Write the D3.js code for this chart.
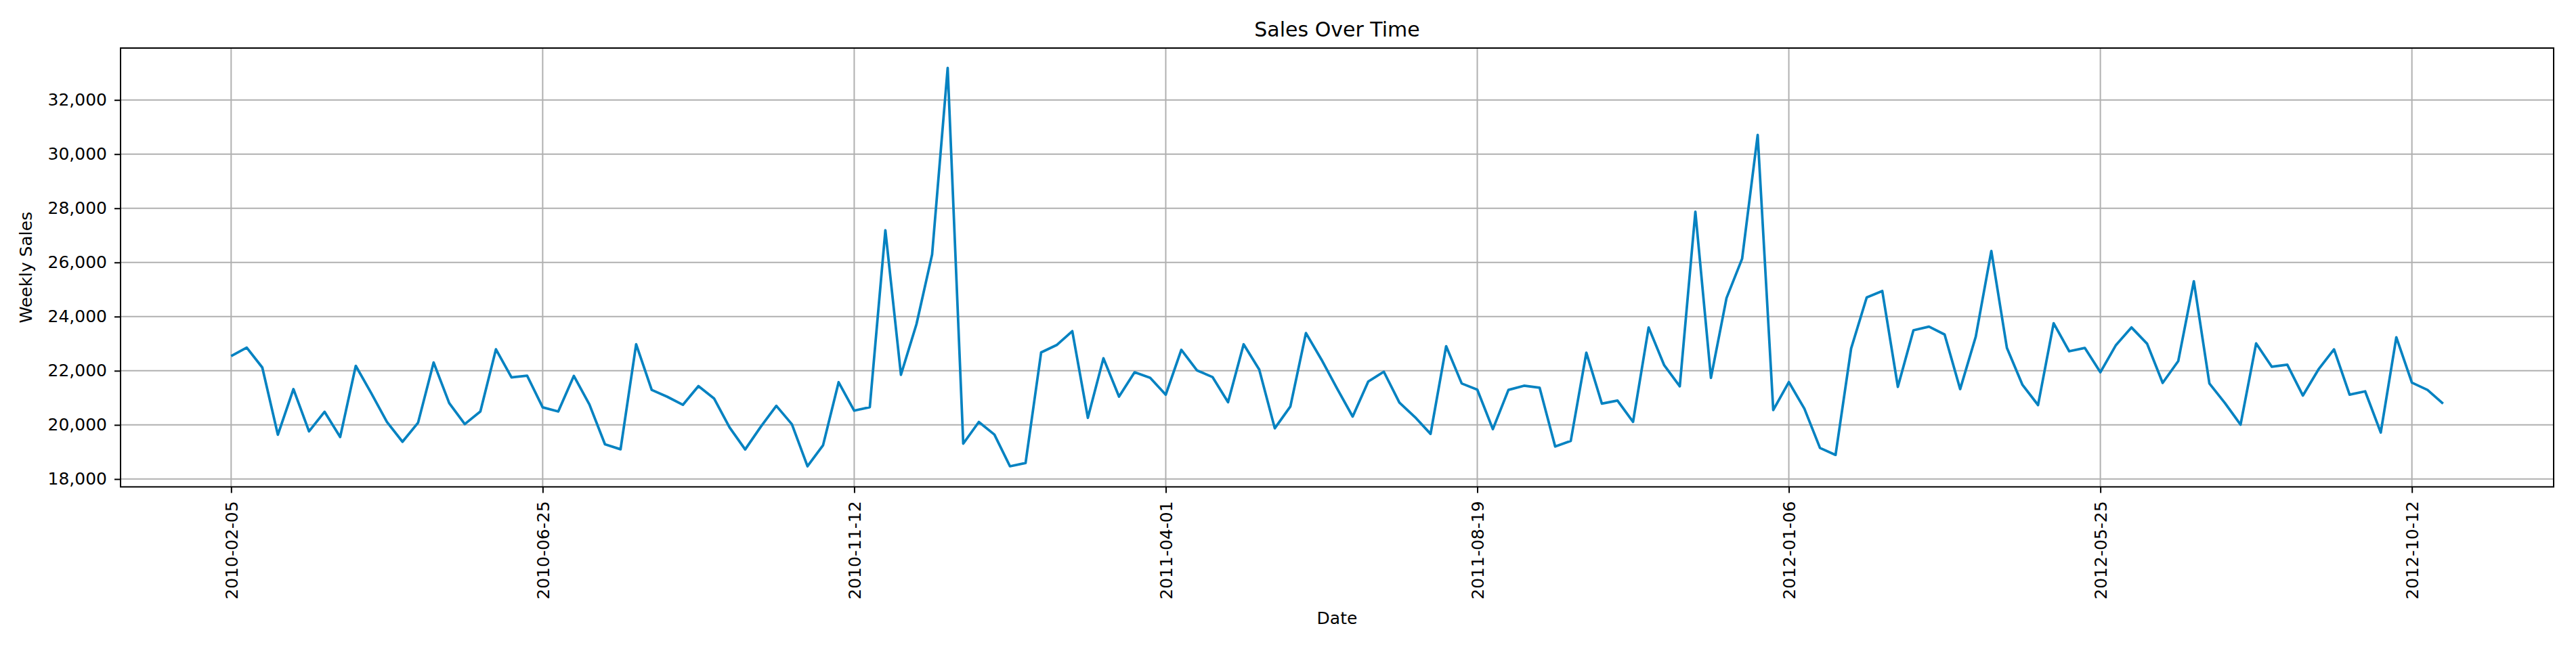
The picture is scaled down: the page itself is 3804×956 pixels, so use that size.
<!DOCTYPE html>
<html>
<head>
<meta charset="utf-8">
<script src="https://cdn.jsdelivr.net/npm/d3@7"></script>
<style>
  html, body { margin: 0; padding: 0; background: #fff; }
  svg { display: block; font-family: "DejaVu Sans", sans-serif; }
</style>
</head>
<body>
<svg id="chart" width="3804" height="956"></svg>
<script>
const dates = [
  "2010-02-05","2010-02-12","2010-02-19","2010-02-26","2010-03-05","2010-03-12","2010-03-19","2010-03-26",
  "2010-04-02","2010-04-09","2010-04-16","2010-04-23","2010-04-30","2010-05-07","2010-05-14","2010-05-21",
  "2010-05-28","2010-06-04","2010-06-11","2010-06-18","2010-06-25","2010-07-02","2010-07-09","2010-07-16",
  "2010-07-23","2010-07-30","2010-08-06","2010-08-13","2010-08-20","2010-08-27","2010-09-03","2010-09-10",
  "2010-09-17","2010-09-24","2010-10-01","2010-10-08","2010-10-15","2010-10-22","2010-10-29","2010-11-05",
  "2010-11-12","2010-11-19","2010-11-26","2010-12-03","2010-12-10","2010-12-17","2010-12-24","2010-12-31",
  "2011-01-07","2011-01-14","2011-01-21","2011-01-28","2011-02-04","2011-02-11","2011-02-18","2011-02-25",
  "2011-03-04","2011-03-11","2011-03-18","2011-03-25","2011-04-01","2011-04-08","2011-04-15","2011-04-22",
  "2011-04-29","2011-05-06","2011-05-13","2011-05-20","2011-05-27","2011-06-03","2011-06-10","2011-06-17",
  "2011-06-24","2011-07-01","2011-07-08","2011-07-15","2011-07-22","2011-07-29","2011-08-05","2011-08-12",
  "2011-08-19","2011-08-26","2011-09-02","2011-09-09","2011-09-16","2011-09-23","2011-09-30","2011-10-07",
  "2011-10-14","2011-10-21","2011-10-28","2011-11-04","2011-11-11","2011-11-18","2011-11-25","2011-12-02",
  "2011-12-09","2011-12-16","2011-12-23","2011-12-30","2012-01-06","2012-01-13","2012-01-20","2012-01-27",
  "2012-02-03","2012-02-10","2012-02-17","2012-02-24","2012-03-02","2012-03-09","2012-03-16","2012-03-23",
  "2012-03-30","2012-04-06","2012-04-13","2012-04-20","2012-04-27","2012-05-04","2012-05-11","2012-05-18",
  "2012-05-25","2012-06-01","2012-06-08","2012-06-15","2012-06-22","2012-06-29","2012-07-06","2012-07-13",
  "2012-07-20","2012-07-27","2012-08-03","2012-08-10","2012-08-17","2012-08-24","2012-08-31","2012-09-07",
  "2012-09-14","2012-09-21","2012-09-28","2012-10-05","2012-10-12","2012-10-19","2012-10-26"
];

const weeklySales = [
  22544, 22854, 22120, 19637, 21323, 19761, 20485, 19554, 22182, 21168,
  20112, 19378, 20081, 22306, 20806, 20030, 20495, 22792, 21757, 21820,
  20650, 20495, 21809, 20754, 19285, 19099, 22978, 21292, 21039, 20741,
  21433, 20979, 19905, 19093, 19929, 20705, 20024, 18472, 19248, 21576,
  20526, 20657, 27188, 21851, 23726, 26293, 33182, 19308, 20108, 19642,
  18472, 18591, 22675, 22950, 23463, 20263, 22461, 21044, 21944, 21737,
  21116, 22771, 22016, 21768, 20837, 22978, 22047, 19874, 20681, 23392,
  22409, 21344, 20309, 21602, 21964, 20826, 20288, 19668, 22906, 21530,
  21302, 19843, 21292, 21447, 21375, 19202, 19409, 22668, 20785, 20899,
  20112, 23599, 22202, 21426, 27872, 21737, 24685, 26134, 30707, 20547,
  21582, 20599, 19150, 18892, 22823, 24706, 24944, 21406, 23496, 23630,
  23340, 21323, 23258, 26424, 22844, 21478, 20733, 23754, 22720, 22844,
  21944, 22947, 23599, 22999, 21551, 22358, 25306, 21530, 20806, 20009,
  23009, 22151, 22223, 21085, 22047, 22792, 21116, 21240, 19719, 23237,
  21561, 21292, 20785
];

const xTickLabels = ["2010-02-05","2010-06-25","2010-11-12","2011-04-01","2011-08-19","2012-01-06","2012-05-25","2012-10-12"];
const yTickValues = [18000, 20000, 22000, 24000, 26000, 28000, 30000, 32000];

const parse = d3.utcParse("%Y-%m-%d");
const fmtDate = d3.utcFormat("%Y-%m-%d");
const data = dates.map((d, i) => ({ date: parse(d), value: weeklySales[i] }));

const margin = { left: 178, right: 3771, top: 71, bottom: 719.4 };
const svg = d3.select("#chart");
svg.append("rect").attr("width", 3804).attr("height", 956).attr("fill", "#fff");

// matplotlib-like 5% padding
const [d0, d1] = d3.extent(data, d => d.date);
const dSpan = d1 - d0;
const x = d3.scaleUtc()
  .domain([new Date(+d0 - 0.05 * dSpan), new Date(+d1 + 0.05 * dSpan)])
  .range([margin.left, margin.right]);

const [v0, v1] = d3.extent(data, d => d.value);
const vSpan = v1 - v0;
const y = d3.scaleLinear()
  .domain([v0 - 0.05 * vSpan - 25, v1 + 0.05 * vSpan])
  .range([margin.bottom, margin.top]);

const xTicks = xTickLabels.map(parse);

// grid
const grid = svg.append("g").attr("stroke", "#b0b0b0").attr("stroke-width", 2);
grid.selectAll(".gx").data(xTicks).join("line")
  .attr("x1", d => x(d)).attr("x2", d => x(d))
  .attr("y1", margin.top).attr("y2", margin.bottom);
grid.selectAll(".gy").data(yTickValues).join("line")
  .attr("x1", margin.left).attr("x2", margin.right)
  .attr("y1", d => y(d)).attr("y2", d => y(d));

// line
const line = d3.line().x(d => x(d.date)).y(d => y(d.value));
svg.append("path").datum(data)
  .attr("d", line)
  .attr("fill", "none")
  .attr("stroke", "#0582c1")
  .attr("stroke-width", 3.75)
  .attr("stroke-linejoin", "round")
  .attr("stroke-linecap", "butt");

// axes
const xAxis = svg.append("g").attr("transform", `translate(0,${margin.bottom})`)
  .call(d3.axisBottom(x).tickValues(xTicks).tickFormat(fmtDate).tickSize(9).tickPadding(0));
xAxis.select(".domain").remove();
xAxis.selectAll(".tick line").attr("stroke", "#000").attr("stroke-width", 2);
xAxis.selectAll(".tick text")
  .attr("font-size", 25).attr("fill", "#000")
  .attr("font-family", "DejaVu Sans")
  .attr("transform", "rotate(-90)")
  .attr("text-anchor", "end")
  .attr("x", -21).attr("y", 0).attr("dy", "0.35em");

const yAxis = svg.append("g").attr("transform", `translate(${margin.left},0)`)
  .call(d3.axisLeft(y).tickValues(yTickValues).tickFormat(d3.format(",")).tickSize(9).tickPadding(11));
yAxis.select(".domain").remove();
yAxis.selectAll(".tick line").attr("stroke", "#000").attr("stroke-width", 2);
yAxis.selectAll(".tick text")
  .attr("font-size", 25).attr("fill", "#000")
  .attr("font-family", "DejaVu Sans");

// frame
svg.append("rect")
  .attr("x", margin.left).attr("y", margin.top)
  .attr("width", margin.right - margin.left)
  .attr("height", margin.bottom - margin.top)
  .attr("fill", "none").attr("stroke", "#000").attr("stroke-width", 2);

// titles
const cx = (margin.left + margin.right) / 2;
svg.append("text").attr("x", cx).attr("y", 54)
  .attr("text-anchor", "middle").attr("font-size", 30).attr("fill", "#000")
  .text("Sales Over Time");
svg.append("text").attr("x", cx).attr("y", 922)
  .attr("text-anchor", "middle").attr("font-size", 25).attr("fill", "#000")
  .text("Date");
svg.append("text")
  .attr("transform", `translate(47,${(margin.top + margin.bottom) / 2}) rotate(-90)`)
  .attr("text-anchor", "middle").attr("font-size", 25).attr("fill", "#000")
  .text("Weekly Sales");
</script>
</body>
</html>
